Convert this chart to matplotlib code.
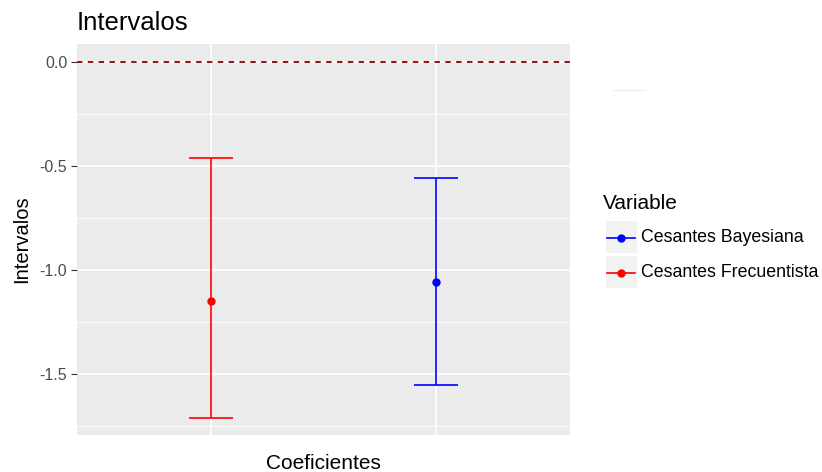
import matplotlib
matplotlib.use("Agg")
import matplotlib.pyplot as plt
from matplotlib.patches import Rectangle
from matplotlib.lines import Line2D

plt.rcParams['font.family'] = ['Liberation Sans', 'DejaVu Sans']

# data
variables = ["Cesantes Frecuentista", "Cesantes Bayesiana"]
colores = ["red", "blue"]
centro = [-1.149, -1.058]
inferior = [-1.713, -1.553]
superior = [-0.462, -0.559]
y_ticks = [0.0, -0.5, -1.0, -1.5]
y_tick_labels = ["0.0", "-0.5", "-1.0", "-1.5"]

fig = plt.figure(figsize=(8.22, 4.72), dpi=100)
W, H = 822, 472
ax = fig.add_axes([77 / W, 1 - 435 / H, (570 - 77) / W, (435 - 44) / H])
ax.set_facecolor("#EBEBEB")
for s in ax.spines.values():
    s.set_visible(False)

# grid
for y in [-0.25, -0.75, -1.25, -1.75]:
    ax.axhline(y, color="white", lw=0.6, zorder=0)
for y in y_ticks:
    ax.axhline(y, color="white", lw=1.2, zorder=0)
for x in [1, 2]:
    ax.axvline(x, color="white", lw=1.2, zorder=0)

ax.axhline(0, color="#8B0000", lw=1.3, ls=(0, (3, 3)), zorder=2)

for i in range(len(variables)):
    x = i + 1
    ax.errorbar([x], [centro[i]],
                yerr=[[centro[i] - inferior[i]], [superior[i] - centro[i]]],
                color=colores[i], lw=1.2, capsize=16, capthick=1.2,
                marker="o", markersize=5, zorder=3)

ax.set_xlim(0.4, 2.6)
ax.set_ylim(-1.793, 0.0865)
ax.set_xticks([1, 2])
ax.set_xticklabels(["", ""])
ax.tick_params(axis="x", length=0)
ax.set_yticks(y_ticks)
ax.set_yticklabels(y_tick_labels)
ax.tick_params(axis="y", length=4, width=0.8, color="#333333",
               labelsize=11.5, labelcolor="#4D4D4D", pad=3)
ax.set_xlabel("Coeficientes", fontsize=15, color="black", labelpad=10)
ax.set_ylabel("Intervalos", fontsize=14.5, color="black", labelpad=6)
ax.set_title("Intervalos", loc="left", fontsize=18.5, pad=10)

# legend drawn by hand, in pixel coordinates
def px(x, y):
    return x / W, 1 - y / H

fig.text(*px(603, 203), "Variable", fontsize=15, va="center", ha="left")
orden = [1, 0]
for k, i in enumerate(orden):
    top = 221 + k * 35
    fig.add_artist(Rectangle(px(606, top + 32), 31 / W, 32 / H,
                             facecolor="#F2F2F2", edgecolor="none",
                             transform=fig.transFigure))
    yc = top + 16.5
    fig.add_artist(Line2D([607 / W, 635 / W], [1 - yc / H] * 2,
                          color=colores[i], lw=1.2,
                          transform=fig.transFigure))
    fig.add_artist(Line2D([621 / W], [1 - yc / H], color=colores[i],
                          marker="o", markersize=5,
                          transform=fig.transFigure))
    fig.text(*px(641, yc), variables[i], fontsize=12.8, va="center", ha="left")

fig.add_artist(Line2D([613 / W, 645 / W], [1 - 90 / H] * 2, color="#F0F0F0",
                      lw=1, transform=fig.transFigure))

fig.savefig("out.png", dpi=100)
